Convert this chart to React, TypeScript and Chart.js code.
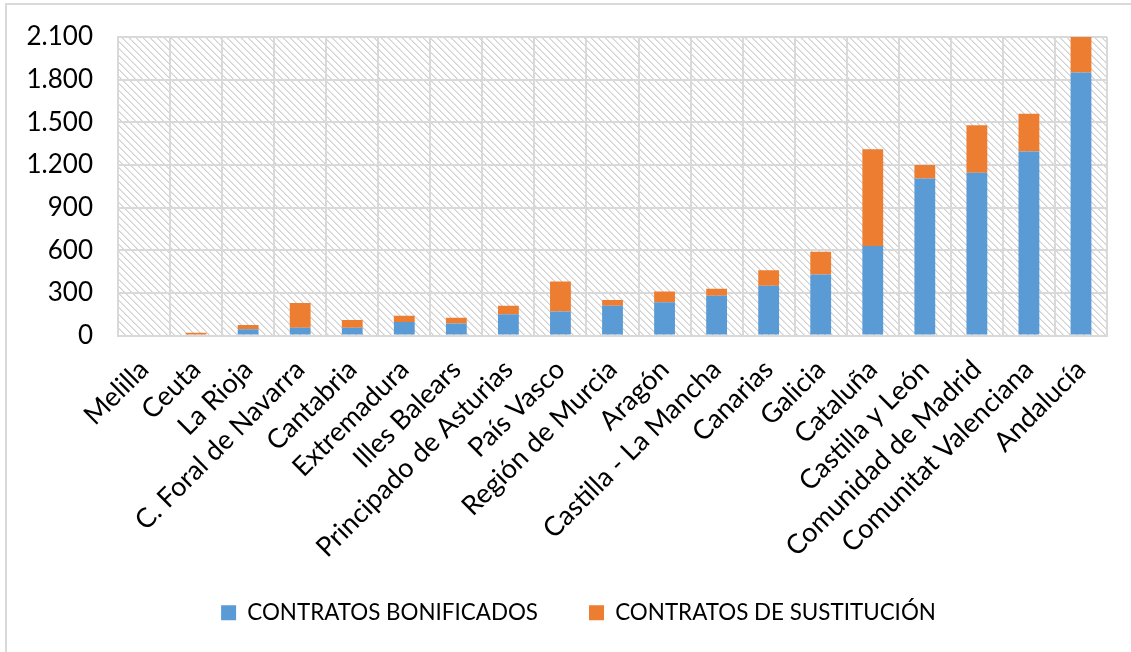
import React, { useEffect, useRef } from "react";
import { Chart, registerables } from "chart.js";

Chart.register(...registerables);

const categories = [
  "Melilla",
  "Ceuta",
  "La Rioja",
  "C. Foral de Navarra",
  "Cantabria",
  "Extremadura",
  "Illes Balears",
  "Principado de Asturias",
  "País Vasco",
  "Región de Murcia",
  "Aragón",
  "Castilla - La Mancha",
  "Canarias",
  "Galicia",
  "Cataluña",
  "Castilla y León",
  "Comunidad de Madrid",
  "Comunitat Valenciana",
  "Andalucía",
];

const contratosBonificados = [0, 0, 45, 55, 55, 95, 85, 150, 170, 210, 235, 280, 350, 430, 630, 1105, 1145, 1295, 1850];
const contratosSustitucion = [0, 20, 30, 175, 55, 45, 40, 60, 210, 40, 75, 50, 110, 160, 680, 95, 335, 265, 300];

const seriesNames = ["CONTRATOS BONIFICADOS", "CONTRATOS DE SUSTITUCIÓN"];
const yTicks = [0, 300, 600, 900, 1200, 1500, 1800, 2100];

const fmt = (v: number) => String(v).replace(/\B(?=(\d{3})+(?!\d))/g, ".");

const hatchPlugin = {
  id: "hatch",
  afterLayout(chart: any) {
    // let rotated category labels extend below the axis box without clipping
    if (chart.scales.x) chart.scales.x.bottom = chart.height;
    // centre the legend like the reference
    if (chart.legend) {
      chart.legend.left += 25;
      chart.legend.right += 25;
    }
  },
  beforeDraw(chart: any) {
    const { ctx, chartArea: a } = chart;
    const n = 7;
    const tile = document.createElement("canvas");
    tile.width = n;
    tile.height = n;
    const t = tile.getContext("2d")!;
    t.fillStyle = "#ffffff";
    t.fillRect(0, 0, n, n);
    for (let i = 0; i < n; i++) {
      t.fillStyle = "#d2d2d2";
      t.fillRect(i, i, 1, 1);
      t.fillStyle = "#e4e4e4";
      t.fillRect((i + 1) % n, i, 1, 1);
    }
    const pat = ctx.createPattern(tile, "repeat");
    ctx.save();
    ctx.fillStyle = pat;
    ctx.fillRect(a.left, a.top, a.right - a.left, a.bottom - a.top);
    ctx.restore();
  },
};

export default function App() {
  const ref = useRef<HTMLCanvasElement | null>(null);

  useEffect(() => {
    if (!ref.current) return;
    const gridColor = "#d9d9d9";
    const chart = new Chart(ref.current, {
      type: "bar",
      data: {
        labels: categories,
        datasets: [
          {
            label: seriesNames[0],
            data: contratosBonificados,
            backgroundColor: "#5b9bd5",
            barPercentage: 0.4,
            categoryPercentage: 1,
            clip: 0 as any,
          },
          {
            label: seriesNames[1],
            data: contratosSustitucion,
            backgroundColor: "#ed7d31",
            barPercentage: 0.4,
            categoryPercentage: 1,
            clip: 0 as any,
          },
        ],
      },
      options: {
        animation: false,
        responsive: false,
        layout: { padding: { top: 37, right: 24, bottom: 18, left: 0 } },
        plugins: {
          tooltip: { enabled: false },
          legend: {
            position: "bottom",
            labels: {
              boxWidth: 15,
              boxHeight: 15,
              padding: 51,
              color: "#000",
              font: { family: "Lato", size: 22.4 },
            },
          },
        },
        scales: {
          x: {
            stacked: true,
            grid: { color: gridColor, lineWidth: 2, drawTicks: false, offset: true },
            border: { display: true, color: gridColor, width: 2 },
            ticks: {
              color: "#000",
              font: { family: "Lato", size: 27 },
              minRotation: 45,
              maxRotation: 45,
              autoSkip: false,
              padding: 18,
            },
            afterFit: (s: any) => {
              s.height = 215;
            },
          },
          y: {
            stacked: true,
            min: 0,
            max: 2100,
            afterBuildTicks: (s: any) => {
              s.ticks = yTicks.map((v) => ({ value: v }));
            },
            grid: {
              color: gridColor,
              lineWidth: 2,
              drawTicks: true,
              tickLength: 22,
              tickColor: "rgba(0,0,0,0)",
            },
            border: { display: true, color: gridColor, width: 2 },
            ticks: {
              color: "#000",
              font: { family: "Lato", size: 26 },
              padding: 3,
              callback: (v: any) => fmt(Number(v)),
            },
            afterFit: (s: any) => {
              s.width = 118;
            },
          },
        },
      },
      plugins: [hatchPlugin],
    });
    return () => chart.destroy();
  }, []);

  return (
    <div
      style={{
        position: "fixed",
        left: 0,
        top: 0,
        width: 1131,
        height: 652,
        background: "#fff",
        overflow: "hidden",
      }}
    >
      <div
        style={{
          position: "absolute",
          left: 5,
          top: 3,
          width: 1200,
          height: 700,
          border: "2px solid #d9d9d9",
        }}
      />
      <canvas
        ref={ref}
        width={1131}
        height={652}
        style={{ position: "absolute", left: 0, top: 0, width: 1131, height: 652 }}
      />
    </div>
  );
}
